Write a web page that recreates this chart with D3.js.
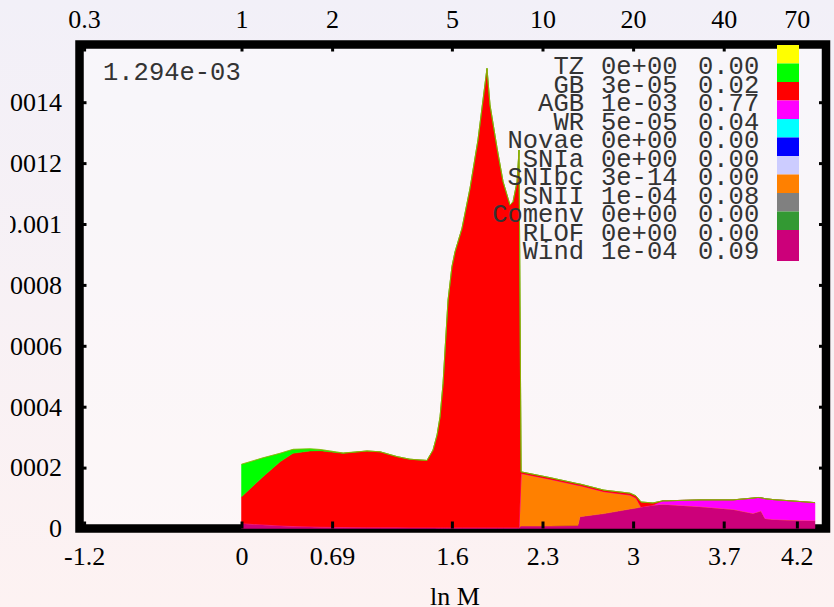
<!DOCTYPE html>
<html>
<head>
<meta charset="utf-8">
<script src="https://cdn.jsdelivr.net/npm/d3@7"></script>
<style>
  body{margin:0;padding:0;}
  svg{display:block;}
</style>
</head>
<body>
<svg id="chart"></svg>
<script>
// ln M grid (shared by all stacked series)
var lnM=[0,0.164,0.295,0.394,0.524,0.601,0.777,0.960,1.060,1.190,1.289,1.419,1.465,1.496,1.519,1.542,1.557,1.580,1.610,1.633,
  1.687,1.748,1.809,1.878,1.901,1.955,2.001,2.054,2.077,2.108,2.123,2.139,2.360,2.574,2.589,2.773,2.972,3.018,3.056,3.148,
  3.224,3.255,3.507,3.760,3.913,3.951,3.974,4.005,4.066,4.196,4.387];

// series values, in units of 1e-5
var windE5=[1.7,1.3,1.0,0.8,0.66,0.55,0.5,0.45,0.4,0.4,0.35,0.35,0.35,0.3,0.3,0.3,0.3,0.3,0.3,0.3,
  0.3,0.3,0.3,0.3,0.3,0.3,0.3,0.3,0.3,0.3,0.3,0.8,0.8,1.0,3.9,4.9,6.4,6.7,7.1,7.7,
  8.0,7.9,7.2,6.3,5.0,5.5,5.8,3.3,3.0,2.8,2.6];
var sniiE5=[0,0,0,0,0,0,0,0,0,0,0,0,0,0,0,0,0,0,0,0,
  0,0,0,0,0,0,0,0,0,0,0,17.3,15.4,13.2,10.2,7.2,4.6,3.3,0,0,
  0,0,0,0,0,0,0,0,0,0,0];
var wrE5=[0,0,0,0,0,0,0,0,0,0,0,0,0,0,0,0,0,0,0,0,
  0,0,0,0,0,0,0,0,0,0,0,0,0,0,0,0,0,0,0,0,
  1.1,1.2,2.2,3.1,5.0,4.7,4.3,6.5,6.5,6.3,5.9];
var agbE5=[8.7,15.7,20.9,23.9,24.8,25.0,24.2,25.0,24.8,23.2,22.4,22.0,25.4,30.4,36.4,47.4,58.3,74.7,85.7,90.5,
  98.3,111.4,127.3,150.8,138.8,124.6,113.6,105.9,107.0,113.6,124.0,0.5,0.5,0.5,0.5,0.5,0.6,0.7,1.6,0.7,
  0,0,0,0,0,0,0,0,0,0,0];
var gbE5=[10.7,6.2,2.8,1.3,0.7,0.4,0.1,0,0,0,0,0,0,0,0,0,0,0,0,0,
  0,0,0,0,0,0,0,0,0,0,0,0,0,0,0,0,0,0,0,0,
  0,0,0,0,0,0,0,0,0,0,0];

// legend
var legNames=["TZ","GB","AGB","WR","Novae","SNIa","SNIbc","SNII","Comenv","RLOF","Wind"];
var legTotals=["0e+00","3e-05","1e-03","5e-05","0e+00","0e+00","3e-14","1e-04","0e+00","0e+00","1e-04"];
var legFracs=["0.00","0.02","0.77","0.04","0.00","0.00","0.00","0.08","0.00","0.00","0.09"];
var legColors=["#ffff00","#00ff00","#ff0000","#ff00ff","#00ffff","#0000ff","#ccccff","#ff8000","#808080","#339933","#cc007a"];

// axes
var topTicks=[0.3,1,2,5,10,20,40,70];
var bottomLabels=["-1.2","0","0.69","1.6","2.3","3","3.7","4.2"];
var yTicks=[0,0.0002,0.0004,0.0006,0.0008,0.001,0.0012,0.0014];
var totalLabel="1.294e-03";

var W=834,H=607;
var svg=d3.select("#chart").attr("width",W).attr("height",H);

var defs=svg.append("defs");
var grad=defs.append("linearGradient").attr("id","bg").attr("x1",0).attr("y1",0).attr("x2",0).attr("y2",1);
grad.append("stop").attr("offset","0%").attr("stop-color","#f2f0f8");
grad.append("stop").attr("offset","100%").attr("stop-color","#fdf2f2");
// the original canvas cuts the y labels off at x=10
defs.append("clipPath").attr("id","leftclip")
    .append("rect").attr("x",10).attr("y",0).attr("width",W).attr("height",H);
svg.append("rect").attr("width",W).attr("height",H).attr("fill","url(#bg)");

var frame={left:79.5,top:44.5,right:826,bottom:528.5};

svg.append("rect")
   .attr("x",frame.left).attr("y",frame.top)
   .attr("width",frame.right-frame.left).attr("height",frame.bottom-frame.top)
   .attr("fill","#ffffff").attr("fill-opacity",0.4)
   .attr("stroke","#000").attr("stroke-width",8.5);

var xScale=d3.scaleLinear().domain([0,Math.log(10)]).range([241.5,542.5]);
var yScale=d3.scaleLinear().domain([0,0.0014]).range([528.5,102.2]);

// stacked table
var keys=["Wind","SNII","WR","AGB","GB"];
var keyColor={Wind:"#cc007a",SNII:"#ff8000",WR:"#ff00ff",AGB:"#ff0000",GB:"#00ff00"};
var table=lnM.map(function(x,i){
  return {x:x,Wind:windE5[i]*1e-5,SNII:sniiE5[i]*1e-5,WR:wrE5[i]*1e-5,AGB:agbE5[i]*1e-5,GB:gbE5[i]*1e-5};
});
var stacked=d3.stack().keys(keys)(table);

var area=d3.area()
  .x(function(d){return xScale(d.data.x);})
  .y0(function(d){return yScale(d[0]);})
  .y1(function(d){return yScale(d[1]);});

var plot=svg.append("g");
plot.selectAll("path.layer")
    .data(stacked)
    .enter()
    .append("path")
    .attr("class","layer")
    .attr("d",area)
    .attr("fill",function(d){return keyColor[d.key];})
    .attr("stroke",function(d){return keyColor[d.key];})
    .attr("stroke-width",0.5);

// thin edge along the top of the stack
var topLine=d3.line()
  .x(function(d){return xScale(d.data.x);})
  .y(function(d){return yScale(d[1]);});
plot.append("path")
    .attr("d",topLine(stacked[stacked.length-1]))
    .attr("fill","none").attr("stroke","#b89a00").attr("stroke-width",0.7);

// axes
var serif="'Liberation Serif','Times New Roman',serif";
function styleAxis(g){
  g.select(".domain").remove();
  g.selectAll(".tick line").attr("stroke","#000").attr("stroke-width",3);
  g.selectAll(".tick text").attr("font-family",serif).attr("font-size",26).attr("fill","#000");
}

svg.append("g")
   .attr("clip-path","url(#leftclip)")
   .append("g")
   .attr("transform","translate("+frame.left+",0)")
   .call(d3.axisLeft(yScale).tickValues(yTicks).tickSizeInner(-7).tickSizeOuter(0).tickPadding(17.5)
     .tickFormat(function(d){return String(+d.toFixed(4));}))
   .call(styleAxis);

svg.append("g")
   .attr("transform","translate("+frame.right+",0)")
   .call(d3.axisRight(yScale).tickValues(yTicks).tickSizeInner(-7).tickSizeOuter(0).tickFormat(""))
   .call(styleAxis);

svg.append("g")
   .attr("transform","translate(0,"+frame.top+")")
   .call(d3.axisTop(xScale).tickValues(topTicks.map(Math.log)).tickSizeInner(-7).tickSizeOuter(0).tickPadding(16.5)
     .tickFormat(function(d,i){return String(topTicks[i]);}))
   .call(styleAxis);

svg.append("g")
   .attr("transform","translate(0,"+frame.bottom+")")
   .call(d3.axisBottom(xScale).tickValues(topTicks.map(Math.log)).tickSizeInner(-7).tickSizeOuter(0).tickPadding(18)
     .tickFormat(function(d,i){return bottomLabels[i];}))
   .call(styleAxis);

svg.append("text")
   .attr("x",455).attr("y",605)
   .attr("text-anchor","middle")
   .attr("font-family",serif).attr("font-size",26)
   .text("ln M");

// total label
var mono="'Liberation Mono','Courier New',monospace";
svg.append("text")
   .attr("x",103).attr("y",80)
   .attr("font-family",mono).attr("font-size",25.5).attr("fill","#333")
   .text(totalLabel);

// key
var key=svg.append("g");
legNames.forEach(function(n,i){
  var base=74+18.5*i;
  key.append("text").attr("x",584).attr("y",base).attr("text-anchor","end")
     .attr("font-family",mono).attr("font-size",25.5).attr("fill","#333").text(n);
  key.append("text").attr("x",601).attr("y",base)
     .attr("font-family",mono).attr("font-size",25.5).attr("fill","#333").text(legTotals[i]);
  key.append("text").attr("x",698).attr("y",base)
     .attr("font-family",mono).attr("font-size",25.5).attr("fill","#333").text(legFracs[i]);
  key.append("rect").attr("x",777).attr("y",45+18.5*i)
     .attr("width",22).attr("height",i==legNames.length-1?31:18.5)
     .attr("fill",legColors[i]);
});
</script>
</body>
</html>
